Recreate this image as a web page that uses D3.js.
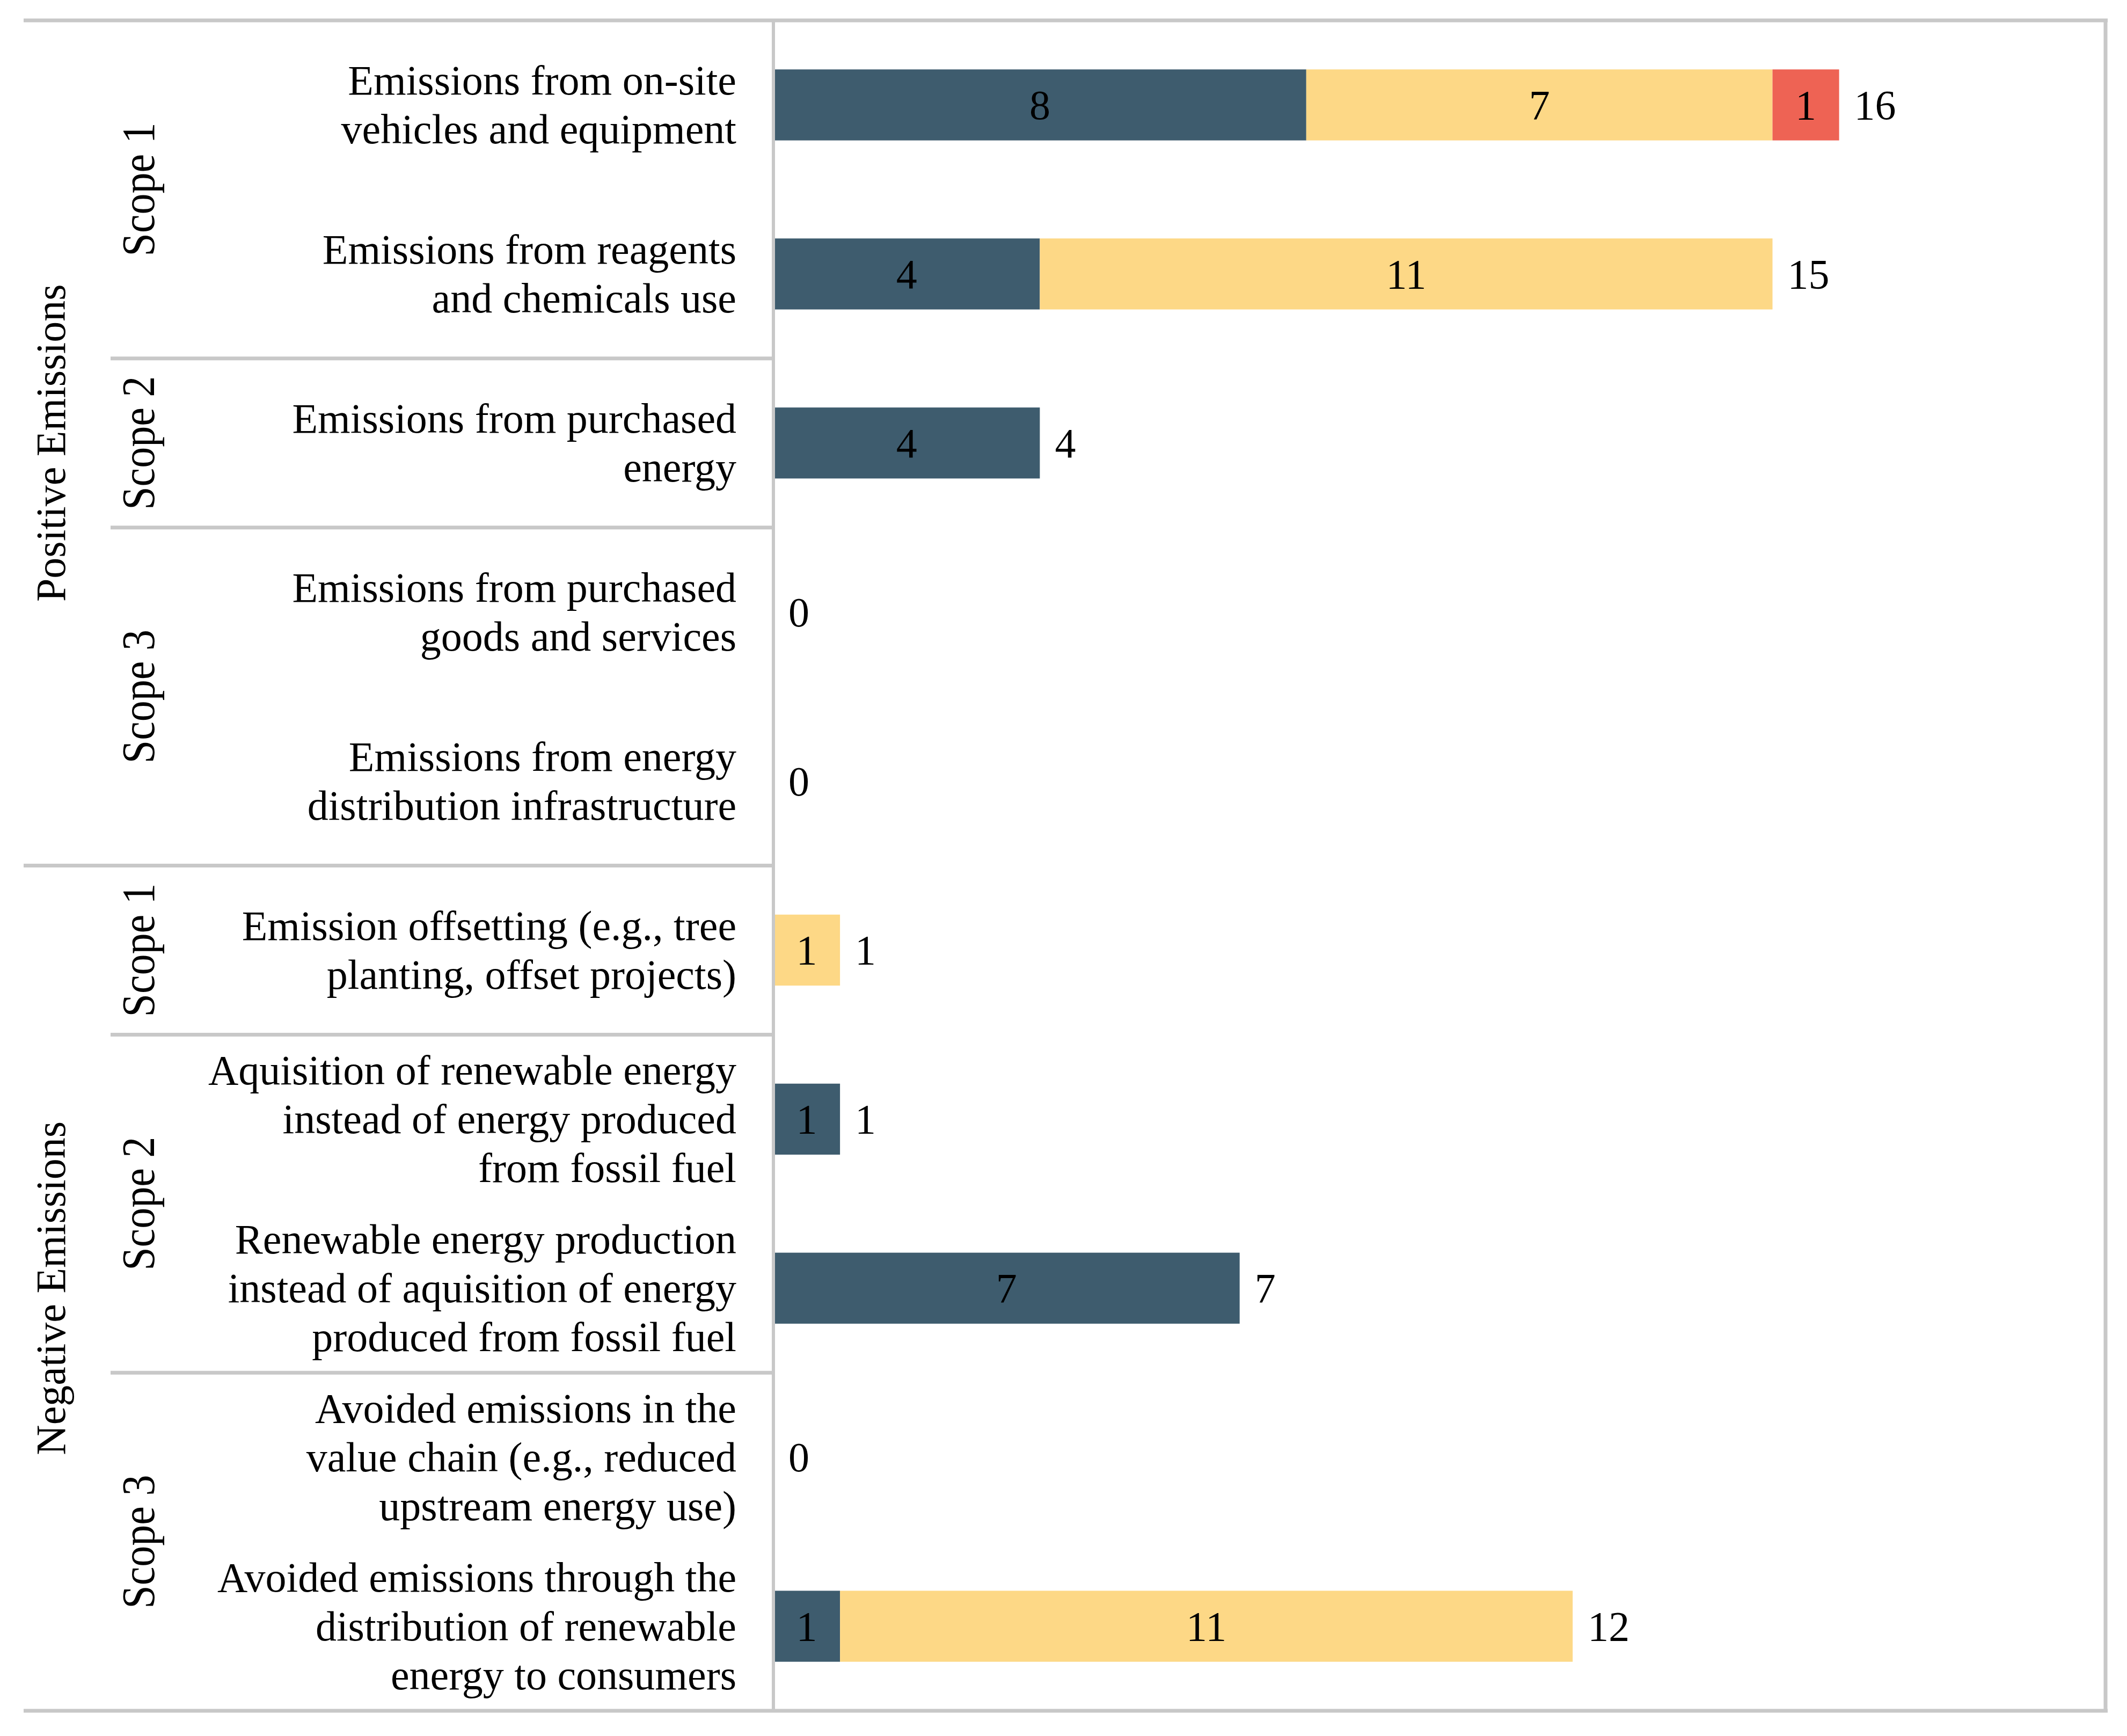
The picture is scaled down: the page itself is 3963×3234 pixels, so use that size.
<!DOCTYPE html>
<html>
<head>
<meta charset="utf-8">
<script src="https://cdn.jsdelivr.net/npm/d3@7"></script>
<style>
  body { margin: 0; background: #ffffff; }
  text { font-family: "Liberation Serif", "Times New Roman", serif; fill: #000000; }
</style>
</head>
<body>
<script>
// row labels (one entry per bar, lines as drawn)
var rowLabels = [
  ["Emissions from on-site", "vehicles and equipment"],
  ["Emissions from reagents", "and chemicals use"],
  ["Emissions from purchased", "energy"],
  ["Emissions from purchased", "goods and services"],
  ["Emissions from energy", "distribution infrastructure"],
  ["Emission offsetting (e.g., tree", "planting, offset projects)"],
  ["Aquisition of renewable energy", "instead of energy produced", "from fossil fuel"],
  ["Renewable energy production", "instead of aquisition of energy", "produced from fossil fuel"],
  ["Avoided emissions in the", "value chain (e.g., reduced", "upstream energy use)"],
  ["Avoided emissions through the", "distribution of renewable", "energy to consumers"]
];

// series values
var darkVals   = [8, 4, 4, 0, 0, 0, 1, 7, 0, 1];
var yellowVals = [7, 11, 0, 0, 0, 1, 0, 0, 0, 11];
var redVals    = [1, 0, 0, 0, 0, 0, 0, 0, 0, 0];

// group and scope spans (first row, row count)
var groupNames = ["Positive Emissions", "Negative Emissions"];
var groupStart = [0, 5];
var groupSize  = [5, 5];
var scopeNames = ["Scope 1", "Scope 2", "Scope 3", "Scope 1", "Scope 2", "Scope 3"];
var scopeStart = [0, 2, 3, 5, 6, 8];
var scopeSize  = [2, 1, 2, 1, 2, 2];

var w = 3963;
var h = 3234;
var plotTop = 38, plotBottom = 3187;
var axisX = 1441, rightX = 3923;
var leftX = 44, scopeLineX = 206;
var fs = 78;
var lineH = 91;
var grey = "#c8c8c8";
var colors = ["#3e5c6e", "#fdd886", "#ee6354"];

var svg = d3.select("body")
    .append("svg")
    .attr("width", w)
    .attr("height", h);

var x = d3.scaleLinear().domain([0, 20]).range([axisX, rightX]);
var y = d3.scaleBand()
    .domain(d3.range(rowLabels.length))
    .range([plotTop, plotBottom])
    .paddingInner(0.58)
    .paddingOuter(0.29);
var edge = d3.scaleLinear().domain([0, rowLabels.length]).range([plotTop, plotBottom]);

// stacked data
var table = rowLabels.map(function(d, i) {
    return { dark: darkVals[i], yellow: yellowVals[i], red: redVals[i] };
});
var keys = ["dark", "yellow", "red"];
var stacked = d3.stack().keys(keys)(table);

var layers = svg.selectAll("g.layer")
    .data(stacked)
    .enter()
    .append("g")
    .attr("class", "layer")
    .attr("fill", function(d, i) { return colors[i]; });

layers.selectAll("rect")
    .data(function(d) { return d; })
    .enter()
    .append("rect")
    .attr("x", function(d) { return x(d[0]); })
    .attr("y", function(d, i) { return y(i); })
    .attr("width", function(d) { return x(d[1]) - x(d[0]); })
    .attr("height", y.bandwidth());

// segment values
stacked.forEach(function(layer) {
    svg.append("g")
        .selectAll("text")
        .data(layer.map(function(d, i) { return { d: d, i: i }; })
            .filter(function(o) { return o.d[1] - o.d[0] > 0; }))
        .enter()
        .append("text")
        .attr("x", function(o) { return (x(o.d[0]) + x(o.d[1])) / 2; })
        .attr("y", function(o) { return y(o.i) + y.bandwidth() / 2; })
        .attr("text-anchor", "middle")
        .attr("dominant-baseline", "central")
        .attr("font-size", fs)
        .text(function(o) { return o.d[1] - o.d[0]; });
});

// totals
svg.append("g")
    .selectAll("text")
    .data(table)
    .enter()
    .append("text")
    .attr("x", function(d) { return x(d.dark + d.yellow + d.red) + 28; })
    .attr("y", function(d, i) { return y(i) + y.bandwidth() / 2; })
    .attr("dominant-baseline", "central")
    .attr("font-size", fs)
    .text(function(d) { return d.dark + d.yellow + d.red; });

// row labels
var lab = svg.append("g")
    .selectAll("text")
    .data(rowLabels)
    .enter()
    .append("text")
    .attr("text-anchor", "end")
    .attr("font-size", fs)
    .attr("y", function(d, i) { return y(i) + y.bandwidth() / 2; });

lab.selectAll("tspan")
    .data(function(d) { return d; })
    .enter()
    .append("tspan")
    .attr("x", 1372)
    .attr("dy", function(t, j, nodes) {
        var n = nodes.length;
        return j === 0 ? (-(n - 1) / 2 * lineH) : lineH;
    })
    .attr("dominant-baseline", "central")
    .text(function(t) { return t; });

// frame lines
svg.append("line")
    .attr("x1", leftX).attr("x2", rightX + 4)
    .attr("y1", plotTop).attr("y2", plotTop)
    .attr("stroke", grey).attr("stroke-width", 7);
svg.append("line")
    .attr("x1", leftX).attr("x2", rightX + 4)
    .attr("y1", plotBottom).attr("y2", plotBottom)
    .attr("stroke", grey).attr("stroke-width", 7);
svg.append("line")
    .attr("x1", rightX).attr("x2", rightX)
    .attr("y1", plotTop).attr("y2", plotBottom)
    .attr("stroke", grey).attr("stroke-width", 7);
svg.append("line")
    .attr("x1", axisX).attr("x2", axisX)
    .attr("y1", plotTop).attr("y2", plotBottom)
    .attr("stroke", grey).attr("stroke-width", 6);

// separators between groups and scopes
svg.selectAll("line.group")
    .data(groupStart.slice(1))
    .enter()
    .append("line")
    .attr("class", "group")
    .attr("x1", leftX).attr("x2", axisX)
    .attr("y1", function(d) { return edge(d); })
    .attr("y2", function(d) { return edge(d); })
    .attr("stroke", grey).attr("stroke-width", 7);

svg.selectAll("line.scope")
    .data(scopeStart.filter(function(d) { return groupStart.indexOf(d) < 0; }))
    .enter()
    .append("line")
    .attr("class", "scope")
    .attr("x1", scopeLineX).attr("x2", axisX)
    .attr("y1", function(d) { return edge(d); })
    .attr("y2", function(d) { return edge(d); })
    .attr("stroke", grey).attr("stroke-width", 7);

// vertical labels
svg.selectAll("text.group")
    .data(groupNames)
    .enter()
    .append("text")
    .attr("class", "group")
    .attr("font-size", fs)
    .attr("text-anchor", "middle")
    .attr("transform", function(d, i) {
        var cy = edge(groupStart[i] + groupSize[i] / 2);
        return "translate(121," + cy + ") rotate(-90)";
    })
    .text(function(d) { return d; });

svg.selectAll("text.scope")
    .data(scopeNames)
    .enter()
    .append("text")
    .attr("class", "scope")
    .attr("font-size", fs)
    .attr("text-anchor", "middle")
    .attr("transform", function(d, i) {
        var cy = edge(scopeStart[i] + scopeSize[i] / 2);
        return "translate(287," + cy + ") rotate(-90) scale(1,1.12)";
    })
    .text(function(d) { return d; });
</script>
</body>
</html>
